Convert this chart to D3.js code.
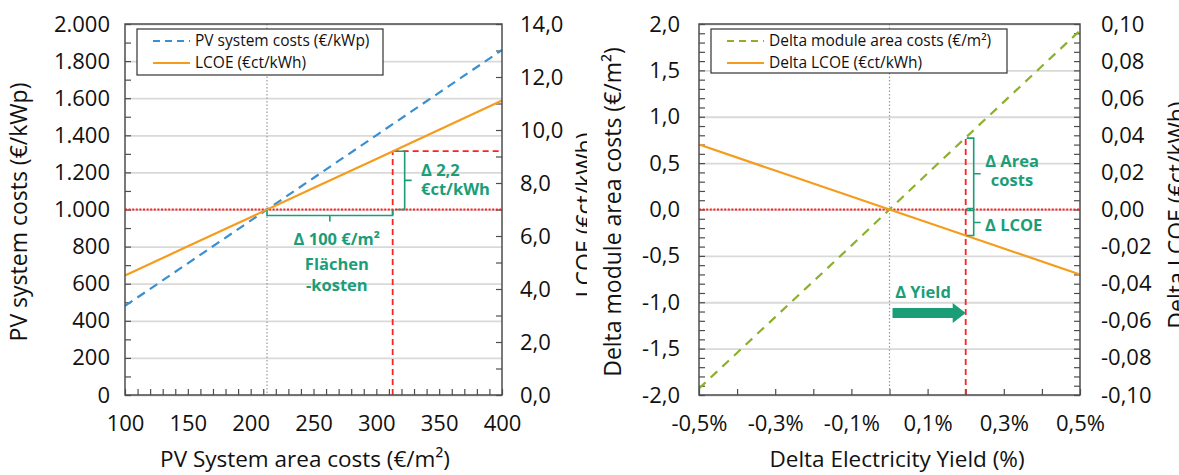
<!DOCTYPE html>
<html><head><meta charset="utf-8">
<script src="https://cdn.jsdelivr.net/npm/d3@7"></script>
<style>
body{margin:0;background:#fff}
svg{display:block}
text{font-family:"Open Sans","Noto Sans",sans-serif;fill:#111}
</style>
</head><body>
<svg id="c" width="1179" height="475"></svg>
<script>
// ---------- Left chart data ----------
const areaCosts   = [100, 150, 200, 250, 300, 350, 400];            // €/m²
const systemCosts = [480, 710, 940, 1170, 1400, 1630, 1860];        // €/kWp
const lcoe        = [4.51, 5.61, 6.71, 7.81, 8.91, 10.01, 11.11];   // €ct/kWh
const leftYTicks  = [0, 200, 400, 600, 800, 1000, 1200, 1400, 1600, 1800, 2000];
const leftY2Ticks = [0, 2, 4, 6, 8, 10, 12, 14];
const leftXTicks  = [100, 150, 200, 250, 300, 350, 400];
const refArea = 213, deltaArea = 100, refCost = 1000, lcoeAfter = 9.2;
const leftSeries = ["PV system costs (€/kWp)", "LCOE (€ct/kWh)"];

// ---------- Right chart data ----------
const yieldDelta  = [-0.5, -0.3, -0.1, 0.1, 0.3, 0.5];              // %
const areaDelta   = [-1.93, -1.16, -0.39, 0.39, 1.16, 1.93];        // €/m²
const lcoeDelta   = [0.035, 0.021, 0.007, -0.007, -0.021, -0.035];  // €ct/kWh
const rightYTicks  = [-2, -1.5, -1, -0.5, 0, 0.5, 1, 1.5, 2];
const rightY2Ticks = [-0.1, -0.08, -0.06, -0.04, -0.02, 0, 0.02, 0.04, 0.06, 0.08, 0.1];
const rightXTicks  = [-0.5, -0.3, -0.1, 0.1, 0.3, 0.5];
const yieldMark = 0.2, areaAtMark = 0.77, lcoeAtMark = -0.014;
const rightSeries = ["Delta module area costs (€/m²)", "Delta LCOE (€ct/kWh)"];

// ---------- style ----------
const C = {blue:"#3a8fd0", orange:"#f59c1d", green:"#8cb02e", teal:"#1b9e78",
           red:"#ff2020", grid:"#d9d9d9", border:"#4d4d4d", dot:"#9a9a9a"};
const TICK_FS = 22, TITLE_FS = 23, XTITLE_FS = 22.5, LEG_FS = 15.5, ANN_FS = 16.5;
const loc = d3.formatLocale({decimal:",", thousands:".", grouping:[3], currency:["","€"], minus:"-"});

const svg = d3.select("#c");
const defs = svg.append("defs");

function panel(o){
  const g = svg.append("g");
  const {x, y, y2} = o;
  const [X0, X1] = x.range(), [Y1, Y0] = y.range();
  const W = X1 - X0, H = Y1 - Y0;

  // gridlines
  g.append("g").attr("transform",`translate(${X0},0)`)
    .call(d3.axisLeft(y).tickValues(o.yTicks).tickSize(-W).tickFormat(""))
    .call(s=>{s.select(".domain").remove(); s.selectAll("line").attr("stroke",C.grid).attr("stroke-width",1.8);});

  // minor ticks (inside)
  const minor = (axis, tr) => g.append("g").attr("transform",tr).call(axis)
    .call(s=>{s.select(".domain").remove(); s.selectAll("line").attr("stroke",C.border).attr("stroke-width",1.2);});
  minor(d3.axisLeft(y).tickValues(o.yMinor).tickSize(-6).tickFormat(""), `translate(${X0},0)`);
  minor(d3.axisRight(y2).tickValues(o.y2Minor).tickSize(-6).tickFormat(""), `translate(${X1},0)`);
  minor(d3.axisBottom(x).tickValues(o.xMinor).tickSize(-6).tickFormat(""), `translate(0,${Y1})`);

  // labels
  const lab = (axis, tr) => g.append("g").attr("transform",tr).call(axis)
    .call(s=>{s.select(".domain").remove(); s.selectAll("line").remove();
      s.selectAll("text").attr("font-size",TICK_FS).attr("fill","#111")
       .style("font-family",'"Open Sans","Noto Sans",sans-serif');});
  lab(d3.axisLeft(y).tickValues(o.yTicks).tickSize(0).tickPadding(o.padL).tickFormat(o.fy), `translate(${X0},0)`);
  lab(d3.axisRight(y2).tickValues(o.y2Ticks).tickSize(0).tickPadding(o.padR).tickFormat(o.fy2), `translate(${X1},0)`);
  lab(d3.axisBottom(x).tickValues(o.xTicks).tickSize(0).tickPadding(20).tickFormat(o.fx), `translate(0,${Y1})`);

  // axis titles
  g.append("text").attr("x",o.xTitleX).attr("y",467).attr("text-anchor","middle")
    .attr("font-size",XTITLE_FS).text(o.xTitle);
  g.append("text").attr("transform",`translate(${o.yTitleX},212) rotate(-90)`)
    .attr("text-anchor","middle").attr("font-size",TITLE_FS).text(o.yTitle);
  defs.append("clipPath").attr("id",o.id+"clip").append("rect")
    .attr("x",0).attr("y",0).attr("width",o.y2Clip).attr("height",475);
  g.append("g").attr("clip-path",`url(#${o.id}clip)`)
    .append("text").attr("transform",`translate(${o.y2TitleX},215) rotate(-90)`)
    .attr("text-anchor","middle").attr("font-size",TITLE_FS).text(o.y2Title);
  return {g, X0, X1, Y0, Y1, W, H};
}

function border(g, p){
  g.append("rect").attr("x",p.X0).attr("y",p.Y0).attr("width",p.W).attr("height",p.H)
    .attr("fill","none").attr("stroke",C.border).attr("stroke-width",1.5);
}
function legend(g, x0, y0, w, h, items){
  g.append("rect").attr("x",x0).attr("y",y0).attr("width",w).attr("height",h)
    .attr("fill","#fff").attr("stroke","#333").attr("stroke-width",1.2);
  items.forEach((it,i)=>{
    const yy = y0 + 12 + i*22;
    g.append("line").attr("x1",x0+16).attr("x2",x0+53).attr("y1",yy).attr("y2",yy)
      .attr("stroke",it.color).attr("stroke-width",2.2).attr("stroke-dasharray",it.dash||null);
    g.append("text").attr("x",x0+58).attr("y",yy).attr("dy","0.35em")
      .attr("font-size",LEG_FS).text(it.label);
  });
}
function teal(g, x, y, t, anchor){
  g.append("text").attr("x",x).attr("y",y).attr("text-anchor",anchor||"middle")
    .attr("font-size",ANN_FS).attr("font-weight","bold").style("fill",C.teal).text(t);
}
const bracket = (g, d) => g.append("path").attr("d",d).attr("fill","none")
  .attr("stroke",C.teal).attr("stroke-width",1.6);

// ===================== LEFT CHART =====================
{
  const x  = d3.scaleLinear().domain([100,400]).range([125,502]);
  const y  = d3.scaleLinear().domain([0,2000]).range([395,24]);
  const y2 = d3.scaleLinear().domain([0,14]).range([395,24]);
  const p = panel({id:"L", x, y, y2, yTicks:leftYTicks, y2Ticks:leftY2Ticks, xTicks:leftXTicks,
    yMinor:d3.range(0,2001,100), y2Minor:d3.range(0,14.01,1), xMinor:d3.range(100,401,10),
    fy:loc.format(",.0f"), fy2:loc.format(".1f"), fx:loc.format("d"),
    padL:15, padR:18,
    xTitle:"PV System area costs (€/m²)", xTitleX:305,
    yTitle:"PV system costs (€/kWp)", yTitleX:27,
    y2Title:"LCOE (€ct/kWh)", y2TitleX:593, y2Clip:587});
  const g = p.g;

  // reference lines
  g.append("line").attr("x1",x(refArea)).attr("x2",x(refArea)).attr("y1",p.Y0).attr("y2",p.Y1)
    .attr("stroke",C.dot).attr("stroke-width",1.2).attr("stroke-dasharray","1.5,2");
  g.append("line").attr("x1",p.X0).attr("x2",p.X1).attr("y1",y(refCost)).attr("y2",y(refCost))
    .attr("stroke",C.red).attr("stroke-width",1.8).attr("stroke-dasharray","2,1.6");
  g.append("line").attr("x1",x(refArea+deltaArea)).attr("x2",x(refArea+deltaArea))
    .attr("y1",p.Y1).attr("y2",y2(lcoeAfter))
    .attr("stroke",C.red).attr("stroke-width",1.8).attr("stroke-dasharray","6,4");
  g.append("line").attr("x1",x(refArea+deltaArea)).attr("x2",p.X1)
    .attr("y1",y2(lcoeAfter)).attr("y2",y2(lcoeAfter))
    .attr("stroke",C.red).attr("stroke-width",1.8).attr("stroke-dasharray","6,4");

  // series
  g.append("path").datum(areaCosts.map((a,i)=>[a,systemCosts[i]]))
    .attr("d",d3.line().x(d=>x(d[0])).y(d=>y(d[1]))).attr("fill","none")
    .attr("stroke",C.blue).attr("stroke-width",2.2).attr("stroke-dasharray","9,6");
  g.append("path").datum(areaCosts.map((a,i)=>[a,lcoe[i]]))
    .attr("d",d3.line().x(d=>x(d[0])).y(d=>y2(d[1]))).attr("fill","none")
    .attr("stroke",C.orange).attr("stroke-width",2.2);

  // brackets
  const xa = x(refArea), xb = x(refArea+deltaArea), yr = y(refCost);
  const by = yr + 6, xm = (xa+xb)/2;
  bracket(g, `M${xa},${yr+1}V${by}H${xb}V${yr+1}M${xm},${by}V${by+6}`);
  const bx = xb + 12, yt = y2(lcoeAfter), ym = (yt+yr)/2;
  bracket(g, `M${xb+4},${yt}H${bx}V${yr}H${xb+4}M${bx},${ym}H${bx+7}`);

  teal(g, 421, 176, "Δ 2,2", "start");
  teal(g, 421, 195, "€ct/kWh", "start");
  teal(g, xm+7, 245, "Δ 100 €/m²");
  teal(g, xm+7, 270, "Flächen");
  teal(g, xm+7, 291, "-kosten");

  border(g, p);
  legend(g, 137, 29, 246, 46, [
    {label:leftSeries[0], color:C.blue, dash:"7,5"},
    {label:leftSeries[1], color:C.orange}]);
}

// ===================== RIGHT CHART =====================
{
  const x  = d3.scaleLinear().domain([-0.5,0.5]).range([699,1080]);
  const y  = d3.scaleLinear().domain([-2,2]).range([395,24]);
  const y2 = d3.scaleLinear().domain([-0.1,0.1]).range([395,24]);
  const p = panel({id:"R", x, y, y2, yTicks:rightYTicks, y2Ticks:rightY2Ticks, xTicks:rightXTicks,
    yMinor:d3.range(-20,21,1).map(v=>v/10), y2Minor:d3.range(-20,21,1).map(v=>v/200),
    xMinor:d3.range(-5,6,1).map(v=>v/10),
    fy:loc.format(".1f"), fy2:loc.format(".2f"), fx:d=>loc.format(".1f")(d)+"%",
    padL:19, padR:21,
    xTitle:"Delta Electricity Yield (%)", xTitleX:897,
    yTitle:"Delta module area costs (€/m²)", yTitleX:621,
    y2Title:"Delta LCOE (€ct/kWh)", y2TitleX:1185, y2Clip:1179});
  const g = p.g;

  g.append("line").attr("x1",x(0)).attr("x2",x(0)).attr("y1",p.Y0).attr("y2",p.Y1)
    .attr("stroke",C.dot).attr("stroke-width",1.2).attr("stroke-dasharray","1.5,2");
  g.append("line").attr("x1",p.X0).attr("x2",p.X1).attr("y1",y(0)).attr("y2",y(0))
    .attr("stroke",C.red).attr("stroke-width",1.8).attr("stroke-dasharray","2,1.6");
  g.append("line").attr("x1",x(yieldMark)).attr("x2",x(yieldMark))
    .attr("y1",p.Y1).attr("y2",y(areaAtMark))
    .attr("stroke",C.red).attr("stroke-width",1.8).attr("stroke-dasharray","6,4");

  g.append("path").datum(yieldDelta.map((a,i)=>[a,areaDelta[i]]))
    .attr("d",d3.line().x(d=>x(d[0])).y(d=>y(d[1]))).attr("fill","none")
    .attr("stroke",C.green).attr("stroke-width",2.2).attr("stroke-dasharray","9,7");
  g.append("path").datum(yieldDelta.map((a,i)=>[a,lcoeDelta[i]]))
    .attr("d",d3.line().x(d=>x(d[0])).y(d=>y2(d[1]))).attr("fill","none")
    .attr("stroke",C.orange).attr("stroke-width",2.2);

  // brackets
  const xr = x(yieldMark), bx = xr + 8;
  const ya = y(areaAtMark), y0 = y(0), yl = y2(lcoeAtMark);
  bracket(g, `M${xr+1},${ya}H${bx}V${y0-1}H${xr+1}M${bx},${(ya+y0)/2}H${bx+7}`);
  bracket(g, `M${xr+1},${y0+1}H${bx}V${yl}H${xr+1}M${bx},${(y0+yl)/2}H${bx+7}`);
  teal(g, 1012, 167, "Δ Area");
  teal(g, 1012, 186, "costs");
  teal(g, 985, 231, "Δ LCOE", "start");

  // yield arrow
  teal(g, 923, 298, "Δ Yield");
  const ax0 = x(0) + 3, ax1 = x(yieldMark), ay = 313;
  g.append("path").attr("fill",C.teal)
    .attr("d",`M${ax0},${ay-5}H${ax1-13}V${ay-10}L${ax1},${ay}L${ax1-13},${ay+10}V${ay+5}H${ax0}Z`);

  border(g, p);
  legend(g, 711, 29, 296, 44, [
    {label:rightSeries[0], color:C.green, dash:"7,5"},
    {label:rightSeries[1], color:C.orange}]);
}
</script>
</body></html>
